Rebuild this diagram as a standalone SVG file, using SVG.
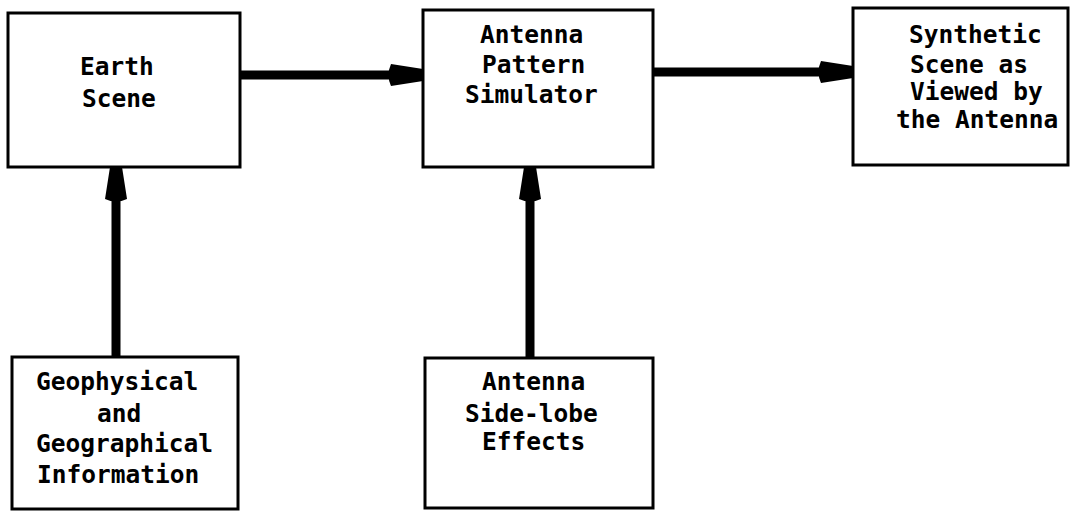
<svg xmlns="http://www.w3.org/2000/svg" width="1077" height="512" viewBox="0 0 1077 512">
<style>
.box{fill:#fff;stroke:#000;stroke-width:3}
.t{font-family:"DejaVu Sans Mono","Liberation Mono",monospace;font-size:24.5px;font-weight:bold;fill:#000}
.conn{stroke:#000;stroke-width:9;fill:none}
</style>
<defs>
<marker id="ah" markerUnits="userSpaceOnUse" viewBox="-36 -12 37 24" refX="0" refY="0" markerWidth="37" markerHeight="24" orient="auto">
<path d="M0,-6 L0,6 L-32,11 Q-37,0 -32,-11 Z" fill="#000"/>
</marker>
</defs>
<rect width="1077" height="512" fill="#fff"/>
<g id="connectors">
<line class="conn" x1="240" y1="75" x2="423" y2="75" marker-end="url(#ah)"/>
<line class="conn" x1="653" y1="72" x2="853" y2="72" marker-end="url(#ah)"/>
<line class="conn" x1="116" y1="357" x2="116" y2="167" marker-end="url(#ah)"/>
<line class="conn" x1="530" y1="358" x2="530" y2="167" marker-end="url(#ah)"/>
</g>
<g id="earth-scene">
<rect class="box" x="8" y="13" width="232" height="154"/>
<text class="t" x="80" y="75">Earth</text>
<text class="t" x="82" y="107">Scene</text>
</g>
<g id="antenna-pattern-simulator">
<rect class="box" x="423" y="10" width="230" height="157"/>
<text class="t" x="480" y="43">Antenna</text>
<text class="t" x="482" y="73">Pattern</text>
<text class="t" x="465" y="103">Simulator</text>
</g>
<g id="synthetic-scene">
<rect class="box" x="853" y="8" width="215" height="157"/>
<text class="t" x="909" y="43">Synthetic</text>
<text class="t" x="910" y="73">Scene as</text>
<text class="t" x="910" y="100">Viewed by</text>
<text class="t" x="896" y="128">the Antenna</text>
</g>
<g id="geo-info">
<rect class="box" x="12" y="357" width="226" height="152"/>
<text class="t" x="36" y="390">Geophysical</text>
<text class="t" x="97" y="422">and</text>
<text class="t" x="36" y="452">Geographical</text>
<text class="t" x="37" y="483">Information</text>
</g>
<g id="side-lobe">
<rect class="box" x="425" y="358" width="228" height="150"/>
<text class="t" x="482" y="390">Antenna</text>
<text class="t" x="465" y="422">Side-lobe</text>
<text class="t" x="482" y="450">Effects</text>
</g>
</svg>
